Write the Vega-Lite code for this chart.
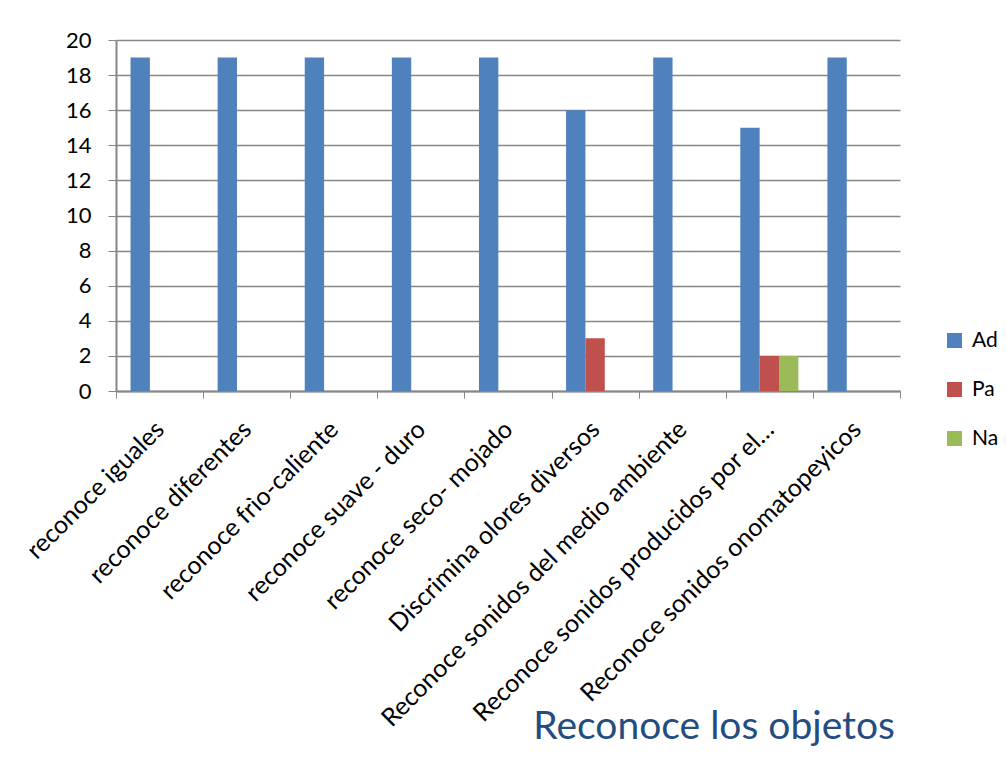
{
  "$schema": "https://vega.github.io/schema/vega-lite/v6.json",
  "autosize": {"type": "none"},
  "width": 784,
  "height": 351,
  "padding": {"left": 116, "top": 40, "right": 107, "bottom": 367},
  "background": "white",
  "config": {
    "font": "Lato",
    "view": {"stroke": null}
  },
  "title": {
    "text": "Reconoce los objetos",
    "orient": "bottom",
    "anchor": "end",
    "frame": "group",
    "fontSize": 39,
    "fontWeight": "normal",
    "color": "#244d7f",
    "font": "Lato",
    "dx": -5,
    "dy": -27
  },
  "data": {
    "values": [
      {"category": "reconoce iguales", "serie": "Ad", "value": 19},
      {"category": "reconoce iguales", "serie": "Pa", "value": 0},
      {"category": "reconoce iguales", "serie": "Na", "value": 0},
      {"category": "reconoce diferentes", "serie": "Ad", "value": 19},
      {"category": "reconoce diferentes", "serie": "Pa", "value": 0},
      {"category": "reconoce diferentes", "serie": "Na", "value": 0},
      {"category": "reconoce frìo-caliente", "serie": "Ad", "value": 19},
      {"category": "reconoce frìo-caliente", "serie": "Pa", "value": 0},
      {"category": "reconoce frìo-caliente", "serie": "Na", "value": 0},
      {"category": "reconoce suave - duro", "serie": "Ad", "value": 19},
      {"category": "reconoce suave - duro", "serie": "Pa", "value": 0},
      {"category": "reconoce suave - duro", "serie": "Na", "value": 0},
      {"category": "reconoce seco- mojado", "serie": "Ad", "value": 19},
      {"category": "reconoce seco- mojado", "serie": "Pa", "value": 0},
      {"category": "reconoce seco- mojado", "serie": "Na", "value": 0},
      {"category": "Discrimina olores diversos", "serie": "Ad", "value": 16},
      {"category": "Discrimina olores diversos", "serie": "Pa", "value": 3},
      {"category": "Discrimina olores diversos", "serie": "Na", "value": 0},
      {"category": "Reconoce sonidos del medio ambiente", "serie": "Ad", "value": 19},
      {"category": "Reconoce sonidos del medio ambiente", "serie": "Pa", "value": 0},
      {"category": "Reconoce sonidos del medio ambiente", "serie": "Na", "value": 0},
      {"category": "Reconoce sonidos producidos por el…", "serie": "Ad", "value": 15},
      {"category": "Reconoce sonidos producidos por el…", "serie": "Pa", "value": 2},
      {"category": "Reconoce sonidos producidos por el…", "serie": "Na", "value": 2},
      {"category": "Reconoce sonidos onomatopeyicos", "serie": "Ad", "value": 19},
      {"category": "Reconoce sonidos onomatopeyicos", "serie": "Pa", "value": 0},
      {"category": "Reconoce sonidos onomatopeyicos", "serie": "Na", "value": 0}
    ]
  },
  "mark": {"type": "bar"},
  "encoding": {
    "x": {
      "field": "category",
      "type": "nominal",
      "sort": null,
      "scale": {"paddingInner": 0, "paddingOuter": 0},
      "axis": {
        "title": null,
        "labelAngle": -45,
        "labelAlign": "right",
        "labelBaseline": "middle",
        "labelFontSize": 25,
        "labelColor": "#000000",
        "labelPadding": 27,
        "labelLimit": 600,
        "labelOverlap": false,
        "tickBand": "extent",
        "tickSize": 7,
        "tickColor": "#868686",
        "domainColor": "#868686",
        "domainWidth": 2,
        "grid": false
      }
    },
    "xOffset": {
      "field": "serie",
      "type": "nominal",
      "sort": ["Ad", "Pa", "Na"],
      "scale": {"domain": ["Ad", "Pa", "Na"], "paddingInner": 0, "paddingOuter": 0.75}
    },
    "y": {
      "field": "value",
      "type": "quantitative",
      "scale": {"domain": [0, 20], "nice": false},
      "axis": {
        "title": null,
        "values": [0, 2, 4, 6, 8, 10, 12, 14, 16, 18, 20],
        "labelFontSize": 22,
        "labelColor": "#000000",
        "labelPadding": 17,
        "tickSize": 8,
        "tickColor": "#868686",
        "domainColor": "#868686",
        "domainWidth": 2,
        "gridColor": "#868686",
        "gridWidth": 1.5
      }
    },
    "color": {
      "field": "serie",
      "type": "nominal",
      "sort": ["Ad", "Pa", "Na"],
      "scale": {"domain": ["Ad", "Pa", "Na"], "range": ["#4f81bd", "#c0504d", "#9bbb59"]},
      "legend": {
        "title": null,
        "orient": "none",
        "legendX": 828,
        "legendY": 290,
        "symbolType": "square",
        "symbolSize": 225,
        "symbolStrokeWidth": 0,
        "labelFontSize": 21,
        "labelColor": "#000000",
        "rowPadding": 27,
        "labelOffset": 7
      }
    }
  }
}
